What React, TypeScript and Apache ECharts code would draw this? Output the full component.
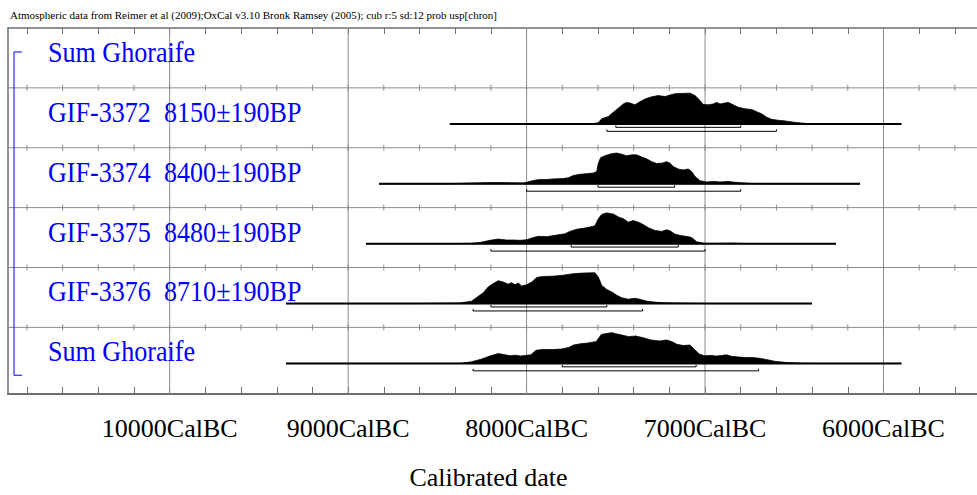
import React, { useEffect, useRef } from "react";
import * as echarts from "echarts";

const HEADER =
  "Atmospheric data from Reimer et al (2009);OxCal v3.10 Bronk Ramsey (2005); cub r:5 sd:12 prob usp[chron]";

const rowLabels = [
  "Sum Ghoraife",
  "GIF-3372  8150±190BP",
  "GIF-3374  8400±190BP",
  "GIF-3375  8480±190BP",
  "GIF-3376  8710±190BP",
  "Sum Ghoraife",
];

const majorTicks = [10000, 9000, 8000, 7000, 6000];
const minorTicks = [
  10800, 10600, 10400, 10200, 10000, 9800, 9600, 9400, 9200, 9000, 8800, 8600, 8400, 8200, 8000,
  7800, 7600, 7400, 7200, 7000, 6800, 6600, 6400, 6200, 6000, 5800, 5600,
];
const rowBoundaries = [1, 2, 3, 4, 5];

// [year BC, relative probability]
const gif3372 = [
  [8430, 0], [7640, 0], [7598, 0.04], [7579, 0.17], [7542, 0.24], [7514, 0.38], [7486, 0.51],
  [7458, 0.65], [7439, 0.7], [7421, 0.68], [7393, 0.62], [7365, 0.72], [7336, 0.81], [7299, 0.88],
  [7262, 0.92], [7224, 0.89], [7196, 0.94], [7168, 0.98], [7131, 0.99], [7084, 1.0], [7056, 0.92],
  [7028, 0.76], [7010, 0.63], [6982, 0.62], [6954, 0.65], [6935, 0.7], [6916, 0.65], [6888, 0.68],
  [6870, 0.7], [6842, 0.62], [6814, 0.54], [6776, 0.49], [6739, 0.47], [6711, 0.4], [6683, 0.33],
  [6655, 0.22], [6627, 0.15], [6590, 0.12], [6552, 0.1], [6505, 0.06], [6458, 0.03], [6402, 0],
  [5900, 0],
];
const gif3374 = [
  [8827, 0], [8450, 0], [8400, 0.01], [8300, 0.03], [8200, 0.04], [8150, 0.04], [8018, 0.03],
  [7999, 0.05], [7962, 0.11], [7925, 0.14], [7887, 0.14], [7850, 0.16], [7794, 0.17], [7766, 0.2],
  [7738, 0.27], [7701, 0.31], [7663, 0.33], [7626, 0.35], [7607, 0.4], [7598, 0.67], [7585, 0.85],
  [7561, 0.91], [7523, 0.98], [7495, 1.0], [7467, 0.96], [7439, 0.91], [7411, 0.94], [7383, 0.94],
  [7355, 0.87], [7327, 0.81], [7299, 0.72], [7271, 0.66], [7243, 0.67], [7215, 0.72], [7196, 0.67],
  [7178, 0.56], [7150, 0.48], [7122, 0.45], [7094, 0.48], [7075, 0.4], [7056, 0.24], [7028, 0.1],
  [6991, 0.06], [6954, 0.08], [6916, 0.06], [6870, 0.08], [6832, 0.05], [6786, 0.03], [6730, 0.01],
  [6636, 0], [6132, 0],
];
const gif3375 = [
  [8900, 0], [8420, 0], [8350, 0.01], [8317, 0.01], [8261, 0.04], [8205, 0.11], [8159, 0.15],
  [8112, 0.12], [8075, 0.12], [8037, 0.11], [7999, 0.13], [7962, 0.2], [7934, 0.24], [7887, 0.23],
  [7831, 0.28], [7785, 0.32], [7757, 0.4], [7719, 0.47], [7682, 0.5], [7645, 0.54], [7617, 0.58],
  [7598, 0.81], [7579, 0.95], [7551, 1.0], [7514, 0.96], [7486, 0.87], [7458, 0.81], [7430, 0.7],
  [7402, 0.75], [7374, 0.7], [7346, 0.62], [7318, 0.52], [7281, 0.43], [7243, 0.4], [7215, 0.45],
  [7196, 0.42], [7168, 0.31], [7131, 0.26], [7094, 0.23], [7075, 0.2], [7047, 0.06], [7010, 0.02],
  [6972, 0.01], [6860, 0.02], [6786, 0.01], [6692, 0], [6266, 0],
];
const gif3376 = [
  [9348, 0], [8650, 0], [8485, 0.01], [8373, 0.02], [8308, 0.08], [8280, 0.2], [8243, 0.35],
  [8215, 0.54], [8187, 0.65], [8159, 0.74], [8131, 0.7], [8103, 0.63], [8084, 0.68], [8065, 0.61],
  [8047, 0.67], [8028, 0.57], [8000, 0.61], [7971, 0.7], [7943, 0.85], [7906, 0.88], [7850, 0.89],
  [7794, 0.92], [7738, 0.97], [7682, 0.99], [7617, 1.0], [7598, 0.86], [7579, 0.59], [7551, 0.46],
  [7523, 0.38], [7495, 0.27], [7467, 0.19], [7430, 0.14], [7393, 0.17], [7365, 0.14], [7327, 0.08],
  [7271, 0.04], [7178, 0.02], [7066, 0.01], [6950, 0], [6401, 0],
];
const sumGhoraife = [
  [9348, 0], [8400, 0], [8370, 0.005], [8312, 0.05], [8254, 0.14], [8206, 0.24], [8159, 0.32],
  [8120, 0.28], [8091, 0.25], [8062, 0.27], [8034, 0.24], [8005, 0.26], [7976, 0.28], [7947, 0.43],
  [7908, 0.45], [7851, 0.45], [7803, 0.47], [7764, 0.52], [7735, 0.6], [7697, 0.64], [7658, 0.66],
  [7610, 0.71], [7581, 0.94], [7543, 0.98], [7520, 1.0], [7505, 0.97], [7466, 0.92], [7428, 0.87],
  [7389, 0.89], [7351, 0.84], [7303, 0.76], [7255, 0.73], [7216, 0.76], [7187, 0.71], [7158, 0.62],
  [7120, 0.58], [7085, 0.6], [7062, 0.47], [7033, 0.31], [7005, 0.25], [6966, 0.26], [6937, 0.24],
  [6908, 0.26], [6880, 0.28], [6851, 0.23], [6812, 0.21], [6774, 0.19], [6735, 0.19], [6697, 0.17],
  [6658, 0.13], [6610, 0.07], [6543, 0.03], [6466, 0.01], [6370, 0], [5900, 0],
];
const distributions = [gif3372, gif3374, gif3375, gif3376, sumGhoraife];
const distRows = [1, 2, 3, 4, 5];

// 68.2% and 95.4% ranges [from BC, to BC]
const range68 = [[7500, 6800], [7600, 7170], [7750, 7150], [8200, 7550], [7800, 7050]];
const range95 = [[7550, 6600], [8000, 6800], [8200, 7000], [8300, 7350], [8300, 6700]];

// layout constants (row units: 1 row = 60.2px)
const X_MIN = -10906;
const X_MAX = -5476;
const Y_MAX = 6.113;
const BASE = 0.603;
const PEAK = 0.515;
const OFF68 = 0.056;
const OFF95 = 0.123;
const TICKUP = 0.033;
const LABEL_Y = 0.4;
const SERIF = '"Liberation Serif", "Times New Roman", serif';
const GRID_COLOR = "#8c8c8c";
const AXIS_COLOR = "#6e6e6e";

export default function App() {
  const ref = useRef<HTMLDivElement>(null);
  useEffect(() => {
    if (!ref.current) return;
    const chart = echarts.init(ref.current, undefined, { renderer: "svg" });
    const option: any = {
      animation: false,
      backgroundColor: "#ffffff",
      title: {
        text: HEADER,
        left: 5,
        top: 4,
        textStyle: { fontFamily: SERIF, fontSize: 11, fontWeight: "normal", color: "#000" },
      },
      grid: { left: 8, top: 28, width: 969, height: 368 },
      xAxis: [
        {
          type: "value",
          position: "bottom",
          min: X_MIN,
          max: X_MAX,
          axisLine: { show: true, onZero: false, lineStyle: { color: AXIS_COLOR, width: 2 } },
          axisTick: {
            show: true,
            inside: true,
            length: 7,
            customValues: minorTicks.map((v) => -v),
            lineStyle: { color: AXIS_COLOR, width: 1 },
          },
          axisLabel: {
            show: true,
            customValues: majorTicks.map((v) => -v),
            formatter: (v: number) => `${-v}CalBC`,
            fontFamily: SERIF,
            fontSize: 26,
            color: "#000",
            margin: 21,
          },
          splitLine: { show: false },
          name: "Calibrated date",
          nameLocation: "middle",
          nameGap: 70,
          nameTextStyle: {
            fontFamily: SERIF,
            fontSize: 26,
            color: "#000",
            padding: [0, 8, 0, 0],
          },
        },
        {
          type: "value",
          position: "top",
          min: X_MIN,
          max: X_MAX,
          axisLine: { show: true, onZero: false, lineStyle: { color: AXIS_COLOR, width: 1.5 } },
          axisTick: {
            show: true,
            inside: true,
            length: 6,
            customValues: minorTicks.map((v) => -v),
            lineStyle: { color: AXIS_COLOR, width: 1 },
          },
          axisLabel: { show: false },
          splitLine: { show: false },
        },
      ],
      yAxis: {
        type: "value",
        inverse: true,
        min: 0,
        max: Y_MAX,
        axisLine: { show: true, onZero: false, lineStyle: { color: AXIS_COLOR, width: 1.5 } },
        axisTick: { show: false },
        axisLabel: { show: false },
        splitLine: { show: false },
      },
      series: [
        {
          type: "custom",
          name: "major grid",
          silent: true,
          data: majorTicks.map((v) => [-v, 0]),
          encode: { x: 0, y: 1 },
          renderItem: (params: any, api: any) => {
            const cs = params.coordSys;
            const x = api.coord([api.value(0), 0])[0];
            return {
              type: "line",
              shape: { x1: x, y1: cs.y, x2: x, y2: cs.y + cs.height },
              style: { stroke: GRID_COLOR, lineWidth: 1 },
            };
          },
        },
        {
          type: "custom",
          name: "row grid",
          silent: true,
          data: rowBoundaries.map((r) => [X_MIN, r]),
          encode: { x: 0, y: 1 },
          renderItem: (params: any, api: any) => {
            const cs = params.coordSys;
            const r = api.value(1);
            const y = api.coord([X_MIN, r])[1];
            const children: any[] = [
              {
                type: "line",
                shape: { x1: cs.x, y1: y, x2: cs.x + cs.width, y2: y },
                style: { stroke: GRID_COLOR, lineWidth: 1 },
              },
            ];
            minorTicks.forEach((t) => {
              const x = api.coord([-t, r])[0];
              children.push({
                type: "line",
                shape: { x1: x, y1: y - 3, x2: x, y2: y + 3 },
                style: { stroke: GRID_COLOR, lineWidth: 1 },
              });
            });
            return { type: "group", children };
          },
        },
        {
          type: "custom",
          name: "distributions",
          silent: true,
          data: distRows.map((r, i) => [-distributions[i][0][0], r + BASE, r, i]),
          encode: { x: 0, y: 1 },
          renderItem: (params: any, api: any) => {
            const row = api.value(2);
            const idx = api.value(3);
            const dist = distributions[idx];
            const base = row + BASE;
            const pts = dist.map(([bc, p]) => api.coord([-bc, base - p * PEAK]));
            const left = api.coord([-dist[0][0], base]);
            const right = api.coord([-dist[dist.length - 1][0], base]);
            return {
              type: "group",
              children: [
                {
                  type: "polygon",
                  shape: { points: pts },
                  style: { fill: "#000", stroke: "#000", lineWidth: 0.8 },
                },
                {
                  type: "line",
                  shape: { x1: left[0], y1: left[1], x2: right[0], y2: right[1] },
                  style: { stroke: "#000", lineWidth: 2 },
                },
              ],
            };
          },
        },
        {
          type: "custom",
          name: "ranges",
          silent: true,
          data: [
            ...range68.map((r, i) => [-r[0], -r[1], distRows[i] + BASE + OFF68]),
            ...range95.map((r, i) => [-r[0], -r[1], distRows[i] + BASE + OFF95]),
          ],
          encode: { x: [0, 1], y: 2 },
          renderItem: (params: any, api: any) => {
            const y = api.value(2);
            const a = api.coord([api.value(0), y]);
            const b = api.coord([api.value(1), y]);
            const up = api.coord([api.value(0), y - TICKUP])[1];
            return {
              type: "polyline",
              shape: { points: [[a[0], up], a, b, [b[0], up]] },
              style: { stroke: "#000", lineWidth: 1, fill: null },
            };
          },
        },
        {
          type: "custom",
          name: "labels",
          silent: true,
          data: rowLabels.map((_, i) => [X_MIN, i]),
          encode: { x: 0, y: 1 },
          renderItem: (params: any, api: any) => {
            const cs = params.coordSys;
            const i = api.value(1);
            const y = api.coord([X_MIN, i + LABEL_Y])[1];
            return {
              type: "text",
              x: cs.x + 40,
              y,
              scaleX: 0.9,
              style: {
                text: rowLabels[i],
                fill: "#0000ff",
                font: `29px ${SERIF}`,
                align: "left",
                verticalAlign: "middle",
              },
            };
          },
        },
        {
          type: "custom",
          name: "sum bracket",
          silent: true,
          data: [[X_MIN, 0.4, 5.8]],
          encode: { x: 0, y: 1 },
          renderItem: (params: any, api: any) => {
            const cs = params.coordSys;
            const yTop = api.coord([X_MIN, api.value(1)])[1];
            const yBot = api.coord([X_MIN, api.value(2)])[1];
            const x0 = cs.x + 6;
            return {
              type: "polyline",
              shape: { points: [[x0 + 8, yTop], [x0, yTop], [x0, yBot], [x0 + 8, yBot]] },
              style: { stroke: "#0000ff", lineWidth: 1, fill: null },
            };
          },
        },
      ],
    };
    chart.setOption(option);
    return () => chart.dispose();
  }, []);
  return (
    <div
      ref={ref}
      style={{ position: "fixed", left: 0, top: 0, width: 977, height: 495, background: "#fff" }}
    />
  );
}
